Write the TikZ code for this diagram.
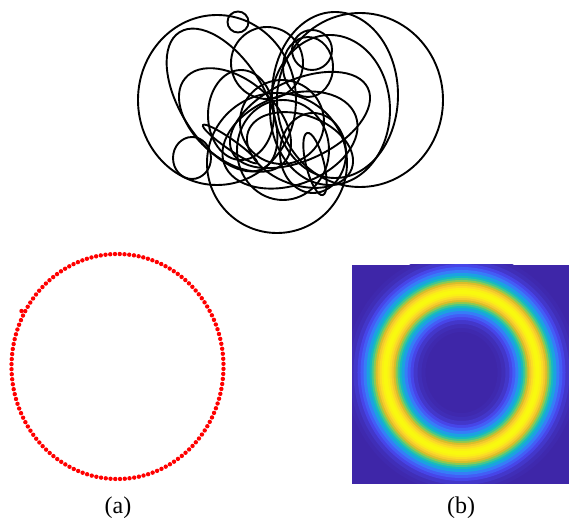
\documentclass[tikz,border=0pt]{standalone}
\usepackage{xcolor}
\usepackage{fontspec}
\setmainfont{Liberation Serif}
\usepackage{tikz}

\definecolor{parula0}{rgb}{0.2422,0.1504,0.6603}

\begin{document}
\begin{tikzpicture}[x=0.5pt, y=-0.5pt,
  loopline/.style={draw=black, line width=0.95pt},
  reddot/.style={fill=red},
  sublabel/.style={font=\fontsize{12}{14}\selectfont, anchor=base, inner sep=0pt}]

  \useasboundingbox (0,0) rectangle (569,518);

  % tangled loops (top)
  \foreach \cx/\cy/\rx/\ry/\ang in {
      238/22/10.5/10.5/0, 360/100/83/87/0, 217/100/79/85/0,
      222/100/80/42/-58, 235/120/65/40/-40, 267/63/36/36/0,
      312/50/20/20/0, 308/67/25/30/0, 277/163/70/70/0,
      192/158/19/21/0, 230/144/33/5/-35, 315/164/9/32/14,
      330/110/60/75/0, 335/95/63/83/0, 300/120/75/40/25,
      290/140/70/45/20, 300/150/55/35/-20, 241/115/33/45/0,
      282/122/42/42/0, 313/153/33/40/0, 283/150/46/50/0}
    \draw[loopline, rotate around={\ang:(\cx,\cy)}] (\cx,\cy) ellipse ({\rx} and {\ry});

  % (a) dotted ring
  \foreach \i in {0,...,139}
    \fill[reddot] ({117.5+106*cos(209.5+\i*2.5714)},{366.5+112.5*sin(209.5+\i*2.5714)}) circle (2.2);
  \fill[reddot] (21.5,311) circle (2.2);

  % (b) heat map, half widths of the bands in px
  \begin{scope}
    \clip (352,265) rectangle (569,484);
    \fill[parula0] (352,265) rectangle (569,484);
    \foreach \d/\vr/\vg/\vb in {
        40/0.246/0.162/0.684, 36/0.251/0.179/0.719, 32/0.261/0.215/0.793,
        28/0.278/0.272/0.909, 25/0.261/0.363/0.963, 22/0.213/0.489/0.972,
        19/0.107/0.635/0.882, 16/0.092/0.734/0.744, 14/0.268/0.781/0.559,
        12/0.544/0.793/0.327, 10/0.844/0.744/0.170, 8/0.951/0.791/0.180,
        6/0.985/0.866/0.147, 4/0.980/0.940/0.088, 2/0.977/0.978/0.058}{
      \definecolor{lvl}{rgb}{\vr,\vg,\vb}
      \draw[lvl, line width=\d pt] (461.5,372.5) ellipse (76 and 80.5);
    }
  \end{scope}

  \node[sublabel] (laba) at (118,514) {(a)};
  \node[sublabel] (labb) at (461,514) {(b)};
\end{tikzpicture}
\end{document}
